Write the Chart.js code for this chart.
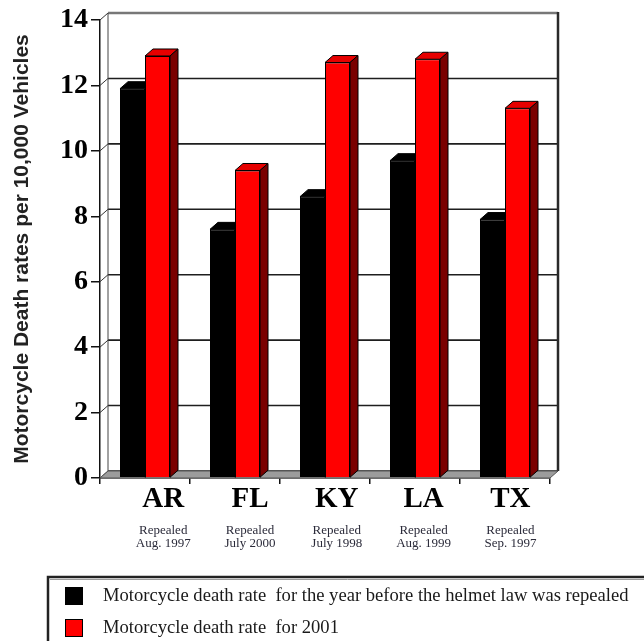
<!DOCTYPE html>
<html>
<head>
<meta charset="utf-8">
<title>Motorcycle death rates before and after helmet law repeal</title>
<script src="https://cdn.jsdelivr.net/npm/chart.js@4.4.1/dist/chart.umd.min.js"></script>
<style>
  html, body { margin: 0; padding: 0; background: #ffffff; }
  canvas { display: block; }
</style>
</head>
<body>
<canvas id="chart" width="644" height="641"></canvas>
<script>
// States where the universal helmet law was repealed
const states = ['AR', 'FL', 'KY', 'LA', 'TX'];
// Repeal date shown under each state
const repealNotes = [
  ['Repealed', 'Aug. 1997'],
  ['Repealed', 'July 2000'],
  ['Repealed', 'July 1998'],
  ['Repealed', 'Aug. 1999'],
  ['Repealed', 'Sep. 1997']
];
// Deaths per 10,000 registered motorcycles
const rateBeforeRepeal = [11.9, 7.6, 8.6, 9.7, 7.9];
const rate2001 = [12.9, 9.4, 12.7, 12.8, 11.3];

const seriesLabels = [
  'Motorcycle death rate  for the year before the helmet law was repealed',
  'Motorcycle death rate  for 2001'
];
const yAxisTitle = 'Motorcycle Death rates per 10,000 Vehicles';
const yMin = 0, yMax = 14, yStep = 2;

// the state names sit on their own slightly narrower scale
const labelAxisMin = -0.728, labelAxisMax = 4.456;

// depth of the walls/floor and of each column (pseudo 3-D look)
const WALL_DX = 8, WALL_DY = -7;
const BAR_DX = 8, BAR_DY = -7;

const faceColors = [
  { front: '#000000', top: '#000000', side: '#000000' },
  { front: '#ff0000', top: '#e60000', side: '#7a0000' }
];

const serif = '"Liberation Serif", "Times New Roman", serif';

function poly(ctx, pts, fill, stroke, lw) {
  ctx.beginPath();
  ctx.moveTo(pts[0][0], pts[0][1]);
  for (let i = 1; i < pts.length; i++) ctx.lineTo(pts[i][0], pts[i][1]);
  ctx.closePath();
  if (fill) { ctx.fillStyle = fill; ctx.fill(); }
  if (stroke) { ctx.strokeStyle = stroke; ctx.lineWidth = lw || 1; ctx.stroke(); }
}

// back wall, side wall, floor and the depth faces of each column
const depth3d = {
  id: 'depth3d',
  beforeDatasetsDraw(chart) {
    const { ctx, chartArea: a, scales } = chart;
    const y = scales.y;
    const yTop = y.getPixelForValue(yMax);
    const yBot = y.getPixelForValue(yMin);
    ctx.save();

    // back wall gridlines
    for (let v = yMin; v <= yMax; v += yStep) {
      const py = y.getPixelForValue(v);
      ctx.beginPath();
      ctx.moveTo(a.left + WALL_DX, py + WALL_DY);
      ctx.lineTo(a.right + WALL_DX, py + WALL_DY);
      ctx.strokeStyle = v === yMax ? '#777777' : '#1e1e1e';
      ctx.lineWidth = v === yMax ? 2.5 : 1.6;
      ctx.stroke();
      // side wall connectors
      ctx.beginPath();
      ctx.moveTo(a.left, py);
      ctx.lineTo(a.left + WALL_DX, py + WALL_DY);
      ctx.strokeStyle = '#333333';
      ctx.lineWidth = 1;
      ctx.stroke();
    }
    // back wall left and right edges
    ctx.beginPath();
    ctx.moveTo(a.left + WALL_DX, yTop + WALL_DY);
    ctx.lineTo(a.left + WALL_DX, yBot + WALL_DY);
    ctx.strokeStyle = '#444444';
    ctx.lineWidth = 1;
    ctx.stroke();
    ctx.beginPath();
    ctx.moveTo(a.right + WALL_DX, yTop + WALL_DY - 1);
    ctx.lineTo(a.right + WALL_DX, yBot + WALL_DY);
    ctx.strokeStyle = '#2a2a2a';
    ctx.lineWidth = 2.5;
    ctx.stroke();

    // floor
    poly(ctx, [
      [a.left, yBot], [a.right, yBot],
      [a.right + WALL_DX, yBot + WALL_DY], [a.left + WALL_DX, yBot + WALL_DY]
    ], '#9c9c9c', '#555555', 1);

    // column top and side faces
    chart.data.datasets.forEach((ds, i) => {
      const meta = chart.getDatasetMeta(i);
      const c = faceColors[i];
      meta.data.forEach(bar => {
        const p = bar.getProps(['x', 'y', 'base', 'width'], true);
        const l = p.x - p.width / 2, r = p.x + p.width / 2;
        poly(ctx, [[l, p.y], [l + BAR_DX, p.y + BAR_DY], [r + BAR_DX, p.y + BAR_DY], [r, p.y]], c.top, '#000000', 1);
        poly(ctx, [[r, p.y], [r + BAR_DX, p.y + BAR_DY], [r + BAR_DX, p.base + BAR_DY], [r, p.base]], c.side, '#000000', 1);
      });
    });
    ctx.restore();
  }
};

// framed legend below the chart
const boxedLegend = {
  id: 'boxedLegend',
  afterDraw(chart) {
    const ctx = chart.ctx;
    const boxLeft = 48, boxTop = 577;
    ctx.save();
    ctx.strokeStyle = '#222222';
    ctx.lineWidth = 2.5;
    ctx.beginPath();
    ctx.moveTo(boxLeft, chart.height + 2);
    ctx.lineTo(boxLeft, boxTop);
    ctx.lineTo(chart.width + 2, boxTop);
    ctx.stroke();
    ctx.strokeStyle = '#9a9a9a';
    ctx.lineWidth = 1;
    ctx.beginPath();
    ctx.moveTo(boxLeft + 2, boxTop + 2.5);
    ctx.lineTo(chart.width + 2, boxTop + 2.5);
    ctx.stroke();

    const rows = [596, 628];
    chart.data.datasets.forEach((ds, i) => {
      const cy = rows[i];
      ctx.fillStyle = ds.backgroundColor;
      ctx.fillRect(65.5, cy - 8.5, 17, 17);
      ctx.strokeStyle = '#000000';
      ctx.lineWidth = 1;
      ctx.strokeRect(65.5, cy - 8.5, 17, 17);
      ctx.fillStyle = '#1a1a1a';
      ctx.font = '18.6px ' + serif;
      ctx.textBaseline = 'middle';
      ctx.textAlign = 'left';
      ctx.fillText(ds.label, 103, cy);
    });
    ctx.restore();
  }
};

function indexTicks(scale) {
  scale.ticks = states.map((_, i) => ({ value: i }));
}

new Chart(document.getElementById('chart'), {
  type: 'bar',
  data: {
    labels: states,
    datasets: [
      {
        label: seriesLabels[0],
        data: rateBeforeRepeal,
        backgroundColor: faceColors[0].front,
        borderColor: '#000000',
        borderWidth: 1
      },
      {
        label: seriesLabels[1],
        data: rate2001,
        backgroundColor: faceColors[1].front,
        borderColor: '#000000',
        borderWidth: 1
      }
    ]
  },
  options: {
    responsive: false,
    animation: false,
    devicePixelRatio: 1,
    categoryPercentage: 0.5556,
    barPercentage: 1.0,
    layout: { padding: { top: 20, right: 94, bottom: 77, left: 0 } },
    plugins: {
      legend: { display: false },
      tooltip: { enabled: false }
    },
    scales: {
      // category axis carrying the columns; only its tick marks are shown
      x: {
        type: 'category',
        position: 'bottom',
        weight: 0,
        grid: {
          display: true,
          offset: true,
          drawOnChartArea: false,
          drawTicks: true,
          tickLength: 6,
          color: '#111111',
          lineWidth: 1.5
        },
        border: { display: true, color: '#111111', width: 1.5 },
        ticks: { display: false },
        afterFit(s) { s.height = 6; }
      },
      // state names
      xState: {
        type: 'linear',
        position: 'bottom',
        weight: 1,
        offset: false,
        min: labelAxisMin,
        max: labelAxisMax,
        afterBuildTicks: indexTicks,
        grid: { display: false, drawTicks: false, offset: false },
        border: { display: false },
        ticks: {
          padding: 0,
          color: '#000000',
          callback: v => states[v],
          font: { family: serif, size: 29, weight: 'bold', lineHeight: 1.1 }
        },
        afterFit(s) { s.height = 40; }
      },
      // repeal dates
      xNote: {
        type: 'linear',
        position: 'bottom',
        weight: 2,
        offset: false,
        min: labelAxisMin,
        max: labelAxisMax,
        afterBuildTicks: indexTicks,
        grid: { display: false, drawTicks: false, offset: false },
        border: { display: false },
        ticks: {
          padding: 0,
          color: '#2b2b3a',
          callback: v => repealNotes[v],
          font: { family: serif, size: 13, lineHeight: 1.0 }
        },
        afterFit(s) { s.height = 40; }
      },
      y: {
        min: yMin,
        max: yMax,
        grid: {
          drawOnChartArea: false,
          drawTicks: true,
          tickLength: 9,
          color: '#111111',
          lineWidth: 1.5
        },
        border: { display: true, color: '#111111', width: 1.5 },
        ticks: {
          stepSize: yStep,
          padding: 3,
          color: '#000000',
          font: { family: serif, size: 28, weight: 'bold' }
        },
        title: {
          display: true,
          text: yAxisTitle,
          color: '#222222',
          padding: { top: 10, bottom: 0 },
          font: { family: '"Liberation Sans", Arial, sans-serif', size: 21, weight: 'bold' }
        },
        afterFit(s) { s.width = 100; }
      }
    }
  },
  plugins: [depth3d, boxedLegend]
});
</script>
</body>
</html>
